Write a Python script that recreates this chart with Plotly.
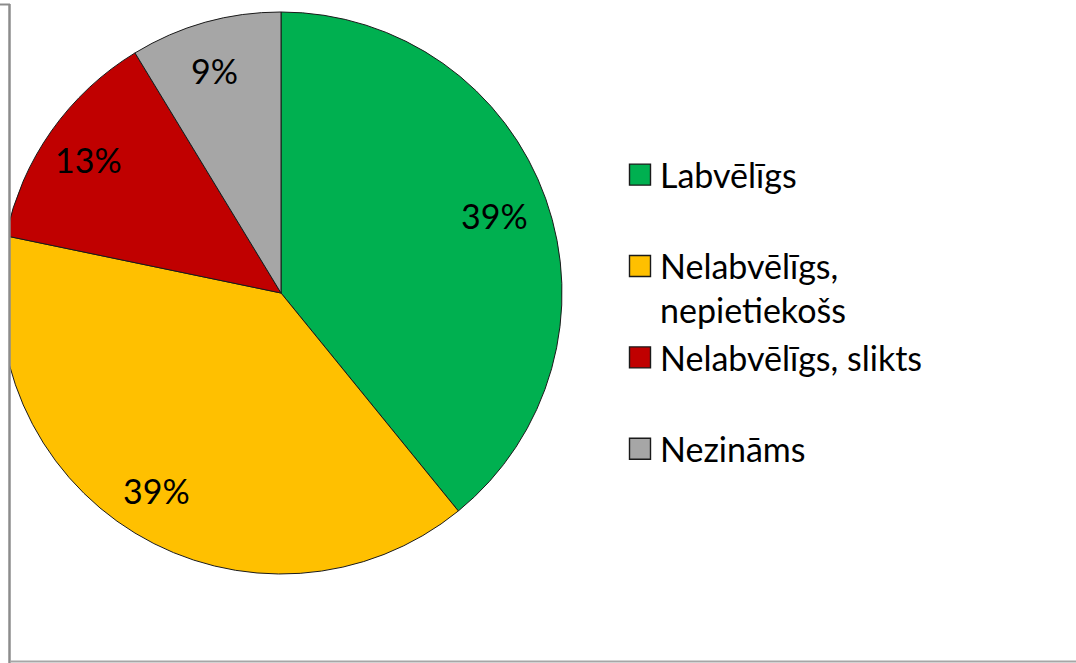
import plotly.graph_objects as go
import math

categories = ["Labvēlīgs", "Nelabvēlīgs, nepietiekošs", "Nelabvēlīgs, slikts", "Nezināms"]
legend_names = ["Labvēlīgs<br> ", "Nelabvēlīgs,<br>nepietiekošs", "Nelabvēlīgs, slikts<br> ", "Nezināms"]
values = [9, 9, 3, 2]
colors = ["#00B050", "#FFC000", "#C00000", "#A6A6A6"]

W, H = 1076, 663
FONT = "Lato"
FS = 34

# pie geometry in pixels
R = 282
CX = 280
CY_UP = 370  # from bottom

fig = go.Figure()
fig.add_trace(go.Pie(
    labels=legend_names,
    values=values,
    marker=dict(colors=colors, line=dict(color="#1a1a1a", width=1)),
    sort=False,
    direction="clockwise",
    rotation=0,
    textinfo="none",
    hoverinfo="label+percent",
    domain=dict(x=[max(0, (CX - R) / W), (CX + R) / W], y=[(CY_UP - R) / H, (CY_UP + R) / H]),
))

total = sum(values)
cum = 0
annotations = []
for v in values:
    mid = (cum + v / 2) / total * 2 * math.pi
    cum += v
    px = CX - 3 + 0.82 * R * math.sin(mid)
    py = CY_UP + 0.82 * R * math.cos(mid)
    annotations.append(dict(
        x=px / W, y=py / H, xref="paper", yref="paper",
        text=f"{round(v / total * 100)}%", showarrow=False,
        font=dict(family=FONT, size=FS, color="#000000"),
        xanchor="center", yanchor="middle",
    ))

def py_(top):
    return (H - top) / H

shapes = [
    dict(type="rect", xref="paper", yref="paper", x0=0, x1=10 / W, y0=0, y1=1,
         fillcolor="white", line=dict(width=0), layer="above"),
    dict(type="line", xref="paper", yref="paper", x0=9.5 / W, x1=9.5 / W, y0=0, y1=py_(4),
         line=dict(color="#8c8c8c", width=2.5), layer="above"),
    dict(type="line", xref="paper", yref="paper", x0=0, x1=10 / W, y0=py_(4.5), y1=py_(4.5),
         line=dict(color="#8c8c8c", width=2), layer="above"),
    dict(type="line", xref="paper", yref="paper", x0=10 / W, x1=1, y0=py_(661.5), y1=py_(661.5),
         line=dict(color="#a6a6a6", width=2), layer="above"),
]

fig.update_layout(
    width=W, height=H,
    margin=dict(l=0, r=0, t=0, b=0),
    paper_bgcolor="white",
    plot_bgcolor="white",
    showlegend=True,
    legend=dict(
        x=620 / W, y=py_(146), xanchor="left", yanchor="top",
        font=dict(family=FONT, size=FS, color="#000000"),
        valign="top",
        traceorder="normal",
        bgcolor="rgba(0,0,0,0)",
    ),
    annotations=annotations,
    shapes=shapes,
)

post = """
document.body.style.margin='0';document.body.style.padding='0';
document.querySelectorAll('.legendpoints path').forEach(function(p){
  var t = p.getAttribute('transform') || '';
  p.setAttribute('transform', t + ' scale(1.75)');
  p.style.strokeWidth = '0.8px';
});
"""

fig.write_html("out.html", config={"displayModeBar": False}, post_script=post)
